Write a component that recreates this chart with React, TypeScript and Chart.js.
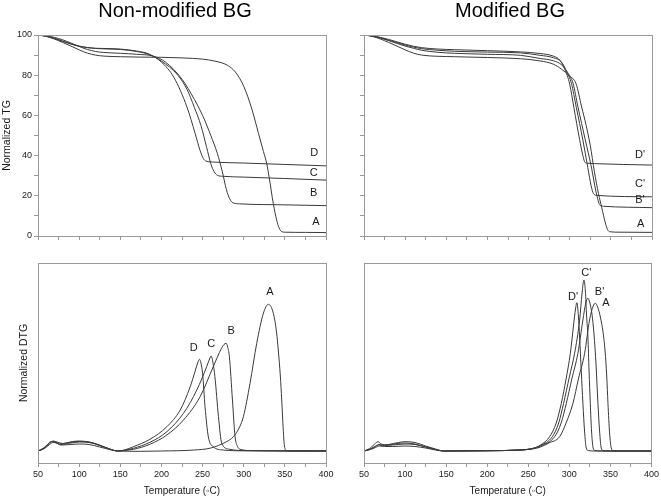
import React, { useEffect, useRef } from "react";
import { Chart, registerables } from "chart.js";

Chart.register(...registerables);

const FONT = "'Liberation Sans', Arial, Helvetica, sans-serif";

// ---------- TG, non-modified BG (temperature °C, normalized weight %) ----------
const tgNonA_T = [50, 60, 70, 80, 90, 100, 110, 120, 130, 150, 175, 200, 225, 250, 265, 280, 290, 300, 310, 318, 324, 328, 331, 336, 340, 343, 346, 350, 375, 400];
const tgNonA_W = [100, 99.3, 98, 96.3, 94.5, 92.6, 91, 90, 89.5, 89.2, 89, 88.9, 88.6, 88, 87, 85, 81.5, 74.5, 63, 51, 42, 36, 29, 16, 8, 4, 2.2, 1.9, 1.8, 1.7];
const tgNonB_T = [50, 60, 70, 80, 90, 100, 110, 120, 130, 150, 170, 190, 205, 225, 240, 250, 260, 268, 274, 279, 283, 287, 295, 350, 400];
const tgNonB_W = [100, 99.6, 98.8, 97.6, 96, 94.3, 92.8, 91.8, 91.3, 90.9, 90.4, 89.5, 86.5, 78, 68, 60, 50, 41, 32, 23, 18.5, 16.5, 16, 15.5, 15.1];
const tgNonC_T = [50, 60, 70, 80, 90, 100, 110, 120, 130, 150, 170, 185, 200, 220, 231, 240, 248, 255, 260, 264, 268, 275, 300, 350, 400];
const tgNonC_W = [100, 99.5, 98.4, 97, 95.6, 94.5, 93.8, 93.3, 93.1, 92.8, 91.8, 90.3, 87, 80, 73, 64, 55, 44, 36, 32, 30.2, 29.7, 29.3, 28.6, 27.8];
const tgNonD_T = [50, 60, 70, 80, 90, 100, 110, 120, 130, 150, 170, 185, 200, 215, 231, 241, 247, 251, 254, 257, 262, 300, 350, 400];
const tgNonD_W = [100, 99.4, 98.2, 96.8, 95.5, 94.4, 93.7, 93.4, 93.3, 93, 92, 90.5, 86.5, 79, 64.2, 51, 42.5, 38.5, 37.3, 37, 36.8, 36.3, 35.6, 34.9];

// ---------- TG, modified BG ----------
const tgModA_T = [50, 60, 70, 80, 90, 100, 110, 120, 140, 160, 200, 240, 264, 280, 290, 300, 307.6, 314.5, 320, 325, 330, 335, 339, 343, 346, 349, 360, 400];
const tgModA_W = [100, 99.3, 98, 96.3, 94.5, 92.6, 91, 90, 89.4, 89.2, 88.8, 88.2, 87.1, 85.5, 83, 79.5, 75.9, 64.2, 55, 45, 32, 21, 14, 7, 3.2, 2.1, 1.9, 1.8];
const tgModB_T = [50, 60, 70, 80, 90, 100, 110, 120, 140, 160, 200, 240, 264, 280, 290, 298, 304, 310, 319, 326, 332, 336.8, 341, 400];
const tgModB_W = [100, 99.5, 98.5, 97.2, 95.8, 94.5, 93.4, 92.4, 91.4, 90.9, 90.4, 89.9, 88.3, 87.2, 85.2, 81, 76, 64.2, 47.7, 35, 22, 15.3, 14.8, 14.1];
const tgModC_T = [50, 60, 70, 80, 90, 100, 110, 120, 140, 160, 200, 240, 264, 280, 290, 296, 302, 308, 316, 322, 326, 329, 333, 400];
const tgModC_W = [100, 99.5, 98.6, 97.4, 96.2, 95, 94, 93.2, 92.4, 91.9, 91.5, 91.1, 89.9, 88.7, 86.5, 82, 76, 64, 47.7, 34, 25, 21, 20.2, 19.5];
const tgModD_T = [50, 60, 70, 80, 90, 100, 110, 120, 140, 160, 200, 240, 264, 280, 288, 294, 300, 305, 312, 316, 318.6, 322, 330, 400];
const tgModD_W = [100, 99.6, 98.8, 97.8, 96.6, 95.4, 94.4, 93.7, 93, 92.7, 92.2, 91.6, 90.8, 89.5, 87.5, 83, 75.5, 64, 48, 40, 36.6, 36.2, 36, 35.3];

// ---------- DTG, non-modified BG (arbitrary units) ----------
const dtgNonA_T = [50, 58, 64, 68, 72, 78, 90, 100, 112, 125, 137, 147, 175, 200, 240, 260, 279, 287.5, 295, 299.6, 307.7, 315.8, 324, 330, 336, 340, 342, 344.5, 346.2, 348, 349.5, 352, 360, 400];
const dtgNonA_V = [0, 2.5, 6.5, 8.5, 8, 6, 6.5, 7, 6.5, 4, 1.5, 0, -0.3, 0, 1, 3, 9.3, 14.3, 24, 34.3, 67.7, 107.7, 138, 146.7, 137.7, 118, 101, 75, 51, 22, 5, 0.5, 0, 0];
const dtgNonB_T = [50, 58, 63, 67, 71, 78, 90, 100, 112, 125, 137, 147, 155, 166, 186, 206.6, 226.8, 247, 263, 273, 276, 278.6, 280.5, 282.6, 286.3, 289.5, 292.5, 295.6, 310, 400];
const dtgNonB_V = [0, 3, 7, 9.5, 9, 6.5, 8, 9, 8.5, 5.5, 2, 0, 0.5, 1.7, 6.7, 16, 31, 54.3, 84.3, 102.7, 106.5, 107.7, 104, 94.3, 51, 14.3, 4.5, 1.7, 0.4, 0];
const dtgNonC_T = [50, 58, 64, 69, 73, 80, 92, 100, 112, 125, 137, 147, 155, 166, 186, 206.6, 226.8, 243, 255, 258.5, 260.4, 262.5, 265, 269.3, 273.3, 283, 300, 400];
const dtgNonC_V = [0, 3.5, 8, 10, 9, 7.5, 9.5, 10, 9, 6, 2, 0, 0.8, 2.7, 8.7, 19.3, 37.7, 61, 84.3, 92, 95, 89, 74.3, 34.3, 7.7, 1.7, 0.4, 0];
const dtgNonD_T = [50, 57, 62, 66, 70, 76, 88, 100, 112, 125, 137, 147, 155, 166, 186, 206.6, 222.8, 235, 241, 244, 246.2, 248, 250, 253, 257, 263, 275, 300, 400];
const dtgNonD_V = [0, 3, 7, 9.5, 9, 7, 8.5, 9.5, 9, 5.5, 2, 0, 1, 4.3, 11.7, 24.3, 41, 64.3, 80, 88, 91.7, 88, 77.7, 44.3, 14.3, 4.3, 1, 0.2, 0];

// ---------- DTG, modified BG ----------
const dtgModA_T = [50, 58, 64, 69, 75, 85, 100, 112, 125, 137, 147, 200, 240, 255, 265, 275, 288.2, 296, 304.4, 311, 318.6, 324.6, 329, 331.5, 334.5, 338, 341, 343.5, 345.5, 347, 349, 351, 353, 360, 400];
const dtgModA_V = [0, 1.5, 3.5, 5, 4.5, 4.5, 5, 4.5, 3, 1, 0, 0.2, 1, 2, 4, 8, 14.3, 28, 47.7, 72, 97.7, 131, 145, 147.7, 144, 133, 119, 100, 75, 47.7, 18, 3, 0.5, 0, 0];
const dtgModB_T = [50, 58, 64, 69, 75, 85, 100, 112, 125, 137, 147, 200, 240, 255, 265, 282.1, 290, 296.3, 303, 310.4, 316.5, 320, 322.6, 325, 327.5, 330, 332.5, 334.8, 336.8, 338.8, 341, 350, 400];
const dtgModB_V = [0, 2, 4.5, 6, 5.5, 6, 7, 6.5, 4, 1.5, 0, 0.3, 1, 2.3, 5, 14.3, 28, 47.7, 72, 97.7, 131, 148, 152.7, 148, 137, 117, 86, 47.7, 20, 3, 0.5, 0, 0];
const dtgModC_T = [50, 58, 64, 68, 73, 80, 92, 100, 112, 125, 137, 147, 200, 240, 255, 265, 279.3, 287, 293, 300, 306.4, 312.5, 315.5, 317.7, 319.5, 321, 322.6, 324, 325.5, 327, 329, 331, 340, 400];
const dtgModC_V = [0, 2, 5, 6.5, 6, 6.5, 8.5, 9.3, 8.5, 5, 2, 0, 0.3, 1, 2.5, 5.5, 14.3, 28, 47.7, 74, 97.7, 131, 158, 171, 160, 135, 114, 80, 47.7, 20, 3, 0.5, 0, 0];
const dtgModD_T = [50, 57, 63, 67, 71, 78, 90, 100, 112, 125, 137, 147, 200, 240, 255, 265, 276, 284, 290.2, 296, 301.2, 305, 307.5, 309.2, 311, 312.5, 314.5, 316.5, 318.5, 320.6, 323, 330, 400];
const dtgModD_V = [0, 2.5, 7, 9.3, 7, 6, 7.5, 8, 7, 4, 1.5, 0, 0.3, 1, 2.5, 6, 14.3, 28, 47.7, 72, 97.7, 125, 142, 148.3, 135, 114, 80, 47.7, 20, 3, 0.5, 0, 0];

// ---------- curve labels (data coordinates) ----------
const tgNonLabelText = ["D", "C", "B", "A"];
const tgNonLabelT = [385.8, 385, 385, 387.6];
const tgNonLabelW = [41.2, 31.5, 21.5, 6.9];
const tgModLabelText = ["D'", "C'", "B'", "A"];
const tgModLabelT = [385.4, 385.4, 385.4, 386.3];
const tgModLabelW = [40.2, 26, 18, 6];
const dtgNonLabelText = ["A", "B", "C", "D"];
const dtgNonLabelT = [331.7, 284.7, 260.6, 239.1];
const dtgNonLabelV = [159, 120.5, 107, 103.3];
const dtgModLabelText = ["C'", "D'", "B'", "A"];
const dtgModLabelT = [320.6, 304.4, 336.8, 344.5];
const dtgModLabelV = [178.3, 154, 159, 147.7];

// ---------- axis ticks ----------
const xMin = 50, xMax = 400, xStep = 25, xLabelStep = 50;
const tgMin = 0, tgMax = 100, tgStep = 10, tgLabelStep = 20;
const dtgMin = -12, dtgMax = 188;

const LINE = "#3a3a3a";
const AXIS = "#9a9a9a";
const TEXT = "#1a1a1a";

function pts(t: number[], v: number[]) {
  return t.map((x, i) => ({ x, y: v[i] }));
}
function labs(text: string[], t: number[], v: number[]) {
  return text.map((s, i) => ({ text: s, x: t[i], y: v[i] }));
}

const framePlugin = {
  id: "frame",
  afterDraw(chart: any) {
    const { ctx, chartArea: a } = chart;
    ctx.save();
    ctx.strokeStyle = AXIS;
    ctx.lineWidth = 1;
    ctx.strokeRect(Math.round(a.left) + 0.5, Math.round(a.top) + 0.5, Math.round(a.right - a.left), Math.round(a.bottom - a.top));
    ctx.restore();
  },
};

const labelPlugin = {
  id: "curveLabels",
  afterDatasetsDraw(chart: any, _args: any, opts: any) {
    const items = (opts && opts.items) || [];
    const { ctx } = chart;
    const xs = chart.scales.x;
    const ys = chart.scales.y;
    ctx.save();
    ctx.font = `11px ${FONT}`;
    ctx.fillStyle = TEXT;
    ctx.textAlign = "center";
    ctx.textBaseline = "middle";
    items.forEach((it: any) => ctx.fillText(it.text, xs.getPixelForValue(it.x), ys.getPixelForValue(it.y)));
    ctx.restore();
  },
};

type PanelDef = {
  series: { t: number[]; v: number[] }[];
  pad: { left: number; top: number; right: number; bottom: number };
  yWidth: number;
  xHeight: number;
  yMin: number;
  yMax: number;
  yTicks: boolean;
  yLabels: boolean;
  yTitle?: string;
  yTitlePad?: number;
  xLabels: boolean;
  xTitle?: string;
  labels: { text: string; x: number; y: number }[];
};

function buildConfig(d: PanelDef): any {
  return {
    type: "line",
    data: {
      datasets: d.series.map((s) => ({
        data: pts(s.t, s.v),
        borderColor: LINE,
        borderWidth: 1,
        pointRadius: 0,
        fill: false,
        cubicInterpolationMode: "monotone",
      })),
    },
    options: {
      animation: false,
      responsive: false,
      devicePixelRatio: 1,
      events: [],
      layout: { padding: d.pad },
      plugins: {
        legend: { display: false },
        tooltip: { enabled: false },
        curveLabels: { items: d.labels },
      },
      scales: {
        x: {
          type: "linear",
          min: xMin,
          max: xMax,
          afterFit: (s: any) => {
            s.height = d.xHeight;
          },
          ticks: {
            stepSize: xStep,
            autoSkip: false,
            maxRotation: 0,
            minRotation: 0,
            padding: 2,
            color: TEXT,
            font: { family: FONT, size: 9 },
            callback: (v: any) => (d.xLabels && Number(v) % xLabelStep === 0 ? String(v) : ""),
          },
          grid: { drawOnChartArea: false, drawTicks: true, tickLength: 4, color: AXIS },
          border: { display: false },
          title: d.xTitle
            ? { display: true, text: d.xTitle, color: TEXT, font: { family: FONT, size: 10 }, padding: { top: 0, bottom: 1 } }
            : { display: false },
        },
        y: {
          type: "linear",
          min: d.yMin,
          max: d.yMax,
          afterFit: (s: any) => {
            s.width = d.yWidth;
          },
          ticks: {
            display: d.yTicks,
            stepSize: tgStep,
            autoSkip: false,
            padding: 2,
            color: TEXT,
            font: { family: FONT, size: 9 },
            callback: (v: any) => (d.yLabels && Number(v) % tgLabelStep === 0 ? String(v) : ""),
          },
          grid: { drawOnChartArea: false, drawTicks: d.yTicks, tickLength: 4, color: AXIS },
          border: { display: false },
          title: d.yTitle
            ? { display: true, text: d.yTitle, color: TEXT, font: { family: FONT, size: 10.5 }, padding: { top: d.yTitlePad || 0, bottom: 0 } }
            : { display: false },
        },
      },
    },
    plugins: [framePlugin, labelPlugin],
  };
}

const panels: PanelDef[] = [
  {
    series: [
      { t: tgNonA_T, v: tgNonA_W },
      { t: tgNonB_T, v: tgNonB_W },
      { t: tgNonC_T, v: tgNonC_W },
      { t: tgNonD_T, v: tgNonD_W },
    ],
    pad: { left: 0, top: 35, right: 335, bottom: 242 },
    yWidth: 38,
    xHeight: 20,
    yMin: tgMin,
    yMax: tgMax,
    yTicks: true,
    yLabels: true,
    yTitle: "Normalized TG",
    yTitlePad: 1,
    xLabels: false,
    labels: labs(tgNonLabelText, tgNonLabelT, tgNonLabelW),
  },
  {
    series: [
      { t: tgModA_T, v: tgModA_W },
      { t: tgModB_T, v: tgModB_W },
      { t: tgModC_T, v: tgModC_W },
      { t: tgModD_T, v: tgModD_W },
    ],
    pad: { left: 354, top: 35, right: 9, bottom: 242 },
    yWidth: 10,
    xHeight: 20,
    yMin: tgMin,
    yMax: tgMax,
    yTicks: true,
    yLabels: false,
    xLabels: false,
    labels: labs(tgModLabelText, tgModLabelT, tgModLabelW),
  },
  {
    series: [
      { t: dtgNonA_T, v: dtgNonA_V },
      { t: dtgNonB_T, v: dtgNonB_V },
      { t: dtgNonC_T, v: dtgNonC_V },
      { t: dtgNonD_T, v: dtgNonD_V },
    ],
    pad: { left: 0, top: 263, right: 335, bottom: 0 },
    yWidth: 38,
    xHeight: 35,
    yMin: dtgMin,
    yMax: dtgMax,
    yTicks: false,
    yLabels: false,
    yTitle: "Normalized DTG",
    yTitlePad: 18,
    xLabels: true,
    xTitle: "Temperature (\u25E6C)",
    labels: labs(dtgNonLabelText, dtgNonLabelT, dtgNonLabelV),
  },
  {
    series: [
      { t: dtgModA_T, v: dtgModA_V },
      { t: dtgModB_T, v: dtgModB_V },
      { t: dtgModC_T, v: dtgModC_V },
      { t: dtgModD_T, v: dtgModD_V },
    ],
    pad: { left: 354, top: 263, right: 9, bottom: 0 },
    yWidth: 10,
    xHeight: 35,
    yMin: dtgMin,
    yMax: dtgMax,
    yTicks: false,
    yLabels: false,
    xLabels: true,
    xTitle: "Temperature (\u25E6C)",
    labels: labs(dtgModLabelText, dtgModLabelT, dtgModLabelV),
  },
];

function Panel({ def }: { def: PanelDef }) {
  const ref = useRef<HTMLCanvasElement>(null);
  useEffect(() => {
    const chart = new Chart(ref.current as HTMLCanvasElement, buildConfig(def));
    return () => chart.destroy();
  }, [def]);
  return (
    <canvas
      ref={ref}
      width={661}
      height={498}
      style={{ position: "absolute", left: 0, top: 0, width: 661, height: 498 }}
    />
  );
}

export default function App() {
  const titleStyle: React.CSSProperties = {
    position: "absolute",
    top: 0,
    fontFamily: FONT,
    fontSize: 20,
    lineHeight: "20px",
    color: "#000",
    textAlign: "center",
    whiteSpace: "nowrap",
  };
  return (
    <div style={{ position: "absolute", left: 0, top: 0, width: 661, height: 498, background: "#fff", overflow: "hidden" }}>
      {panels.map((p, i) => (
        <Panel key={i} def={p} />
      ))}
      <div style={{ ...titleStyle, left: 0, width: 350 }}>Non-modified BG</div>
      <div style={{ ...titleStyle, left: 360, width: 300 }}>Modified BG</div>
    </div>
  );
}
